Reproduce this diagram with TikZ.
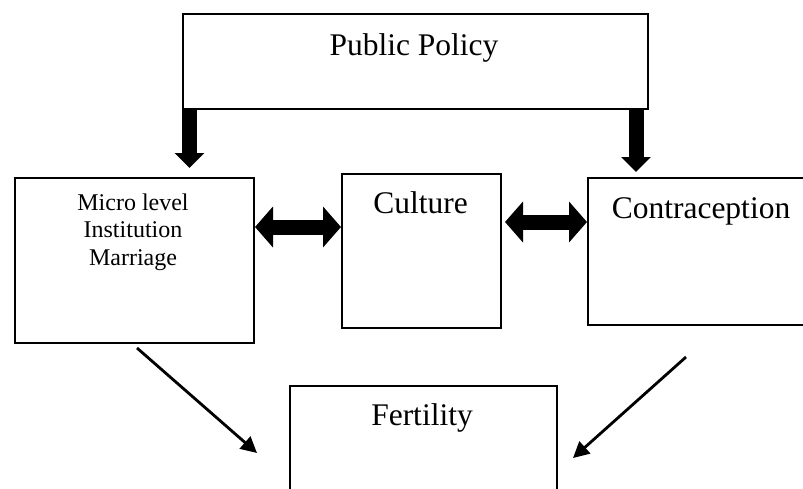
\documentclass[tikz,border=0pt]{standalone}
\usepackage{fontspec}
\setmainfont{Liberation Serif}
\usetikzlibrary{arrows.meta}

\tikzset{
  box/.style={draw, line width=1.5pt, anchor=north west, inner sep=0pt},
  bigtext/.style={font=\fontsize{31.5}{34}\selectfont, anchor=base, inner sep=0pt},
  smalltext/.style={font=\fontsize{24}{27.5}\selectfont, align=center, anchor=base, inner sep=0pt},
  thickarrow/.style={line width=15pt, -{Triangle[width=29pt,length=15pt]}},
  dblarrow/.style={line width=15pt, {Triangle[width=40pt,length=18pt]}-{Triangle[width=40pt,length=18pt]}},
  thinarrow/.style={line width=2.8pt, -{Triangle[width=16pt,length=16pt]}}
}

\begin{document}
\begin{tikzpicture}[x=1pt,y=-1pt]
      \clip (0,0) rectangle (803,488);
      \node[box, minimum width=465pt, minimum height=95pt] (policy) at (182,13) {};
      \node[box, minimum width=239pt, minimum height=165pt] (micro) at (14,177) {};
      \node[box, minimum width=159pt, minimum height=154pt] (culture) at (341,173) {};
      \node[box, minimum width=225pt, minimum height=147pt] (contra) at (587,177) {};
      \node[box, minimum width=267pt, minimum height=115pt] (fert) at (289,385) {};

      \node[bigtext] (policytxt) at (414,55) {Public Policy};
      \node[smalltext] (microtxt) at (133,265) {Micro level\\Institution\\Marriage};
      \node[bigtext] (culturetxt) at (420.5,213) {Culture};
      \node[bigtext] (contratxt) at (701,218) {Contraception};
      \node[bigtext] (ferttxt) at (422,425) {Fertility};

      \coordinate (p1) at (189.5,168);
      \coordinate (p2) at (636,172);
      \draw[thickarrow] (policy.south -| p1) -- (p1);
      \draw[thickarrow] (policy.south -| p2) -- (p2);

      \coordinate (d1) at (255,227);
      \coordinate (d2) at (505,222);
      \draw[dblarrow] (d1) -- (culture.west |- d1);
      \draw[dblarrow] (d2) -- (contra.west |- d2);

      \coordinate (f1) at (137,348);
      \coordinate (f2) at (257,453);
      \coordinate (f3) at (686,357);
      \coordinate (f4) at (573,458);
      \draw[thinarrow] (f1) -- (f2);
      \draw[thinarrow] (f3) -- (f4);
\end{tikzpicture}
\end{document}
